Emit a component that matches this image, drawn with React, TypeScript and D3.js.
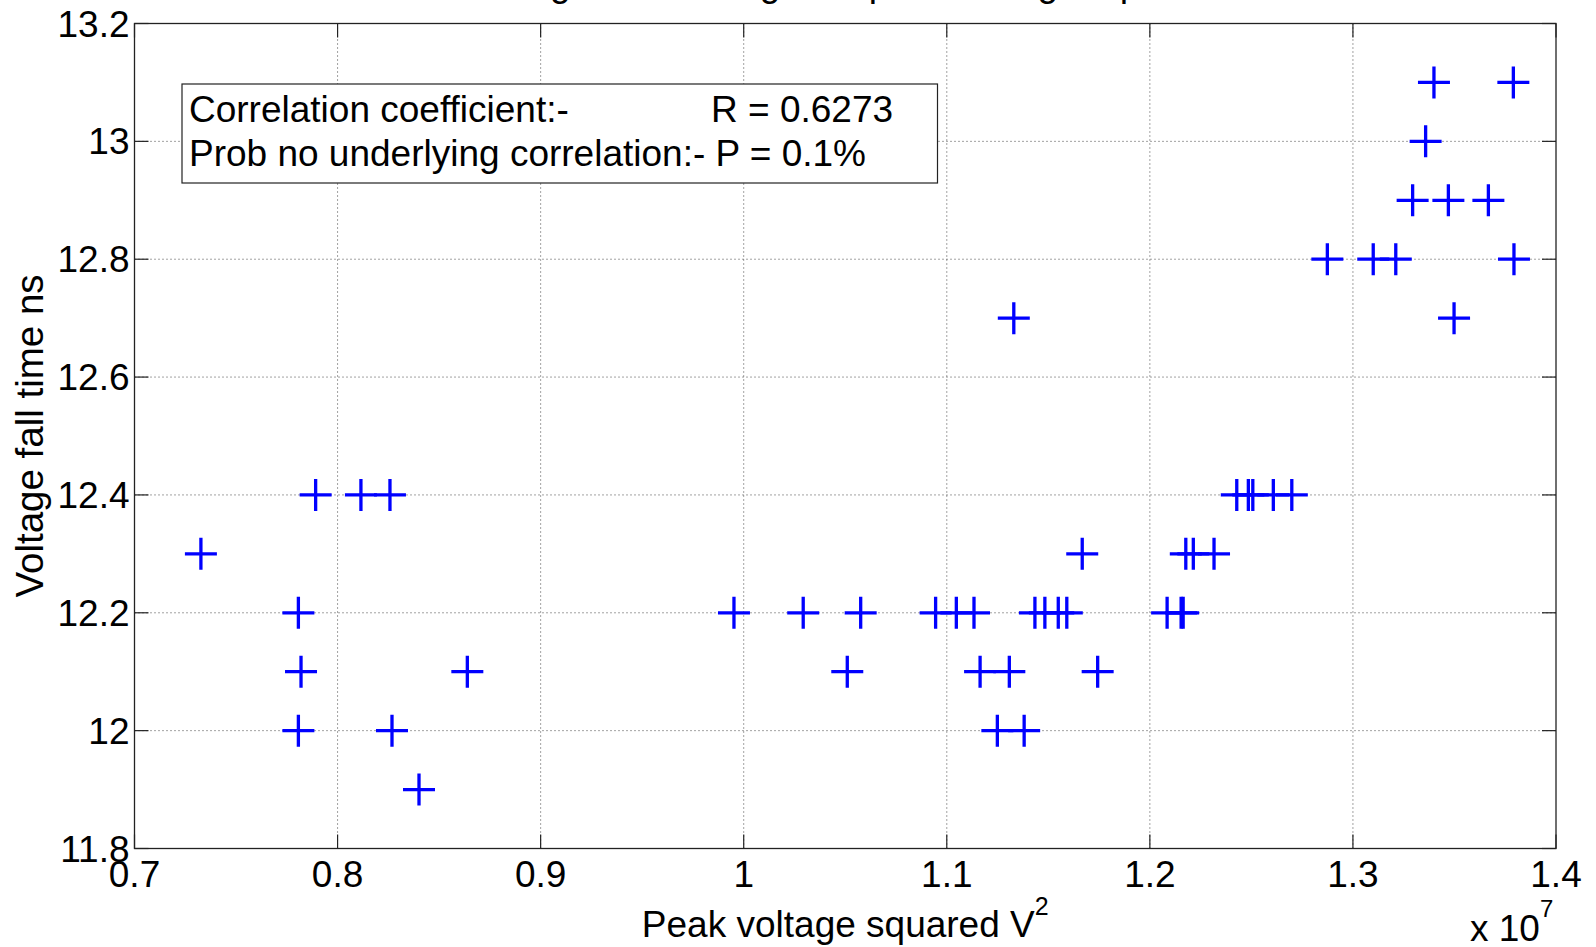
import React from "react";
import * as d3 from "d3";

// ---- data (peak voltage squared in units of 1e7 V^2, fall time in ns) ----
const peakVoltageSq: number[] = [
  0.7327, 0.7892, 0.8115, 0.8258, 0.7807, 0.7820, 0.8639, 0.7807, 0.8268, 0.8401,
  0.9952, 1.0293, 1.0576, 1.0945, 1.1047, 1.1134, 1.1434, 1.1483, 1.1549, 1.1591,
  1.2085, 1.2154, 1.2164,
  1.0510, 1.1164, 1.1308, 1.1743,
  1.1249, 1.1381,
  1.1667, 1.2177, 1.2214, 1.2316,
  1.2428, 1.2485, 1.2507, 1.2608, 1.2699,
  1.1330,
  1.3399, 1.3790, 1.3358, 1.3294, 1.3470, 1.3667,
  1.2874, 1.3100, 1.3211, 1.3793, 1.3498,
];
const fallTime: number[] = [
  12.3, 12.4, 12.4, 12.4, 12.2, 12.1, 12.1, 12.0, 12.0, 11.9,
  12.2, 12.2, 12.2, 12.2, 12.2, 12.2, 12.2, 12.2, 12.2, 12.2,
  12.2, 12.2, 12.2,
  12.1, 12.1, 12.1, 12.1,
  12.0, 12.0,
  12.3, 12.3, 12.3, 12.3,
  12.4, 12.4, 12.4, 12.4, 12.4,
  12.7,
  13.1, 13.1, 13.0, 12.9, 12.9, 12.9,
  12.8, 12.8, 12.8, 12.8, 12.7,
];

const xTickValues: number[] = [0.7, 0.8, 0.9, 1.0, 1.1, 1.2, 1.3, 1.4];
const xTickLabels: string[] = ["0.7", "0.8", "0.9", "1", "1.1", "1.2", "1.3", "1.4"];
const yTickValues: number[] = [11.8, 12.0, 12.2, 12.4, 12.6, 12.8, 13.0, 13.2];
const yTickLabels: string[] = ["11.8", "12", "12.2", "12.4", "12.6", "12.8", "13", "13.2"];

const titleText = "Voltage fall time against peak voltage squared";
const xLabel = "Peak voltage squared V";
const yLabel = "Voltage fall time ns";
const statsLine1Left = "Correlation coefficient:-";
const statsLine1Right = "R = 0.6273";
const statsLine2 = "Prob no underlying correlation:- P = 0.1%";

// ---- layout ----
const W = 1596;
const H = 947;
const plot = { left: 134.5, right: 1556, top: 23.5, bottom: 848.5 };
const FONT = "'Liberation Sans', Arial, Helvetica, sans-serif";
const FS = 37;

export default function App() {
  const x = d3.scaleLinear().domain([0.7, 1.4]).range([plot.left, plot.right]);
  const y = d3.scaleLinear().domain([11.8, 13.2]).range([plot.bottom, plot.top]);
  const tickLen = 14;
  const arm = 16;
  const cx = (plot.left + plot.right) / 2;

  const points = peakVoltageSq.map((v, i) => ({ px: x(v), py: y(fallTime[i]) }));

  return (
    <div style={{ position: "absolute", left: 0, top: 0 }}>
      <svg width={W} height={H} viewBox={`0 0 ${W} ${H}`} style={{ display: "block", background: "#fff" }}>
        <rect x={0} y={0} width={W} height={H} fill="#fff" />
        {/* title (mostly above the visible area, as in the reference) */}
        <text x={cx} y={-4} textAnchor="middle" fontFamily={FONT} fontSize={FS} fill="#000">
          {titleText}
        </text>

        {/* grid */}
        <g stroke="#444" strokeWidth={1} strokeDasharray="1,3">
          {xTickValues.slice(1, -1).map((v, i) => (
            <line key={"gx" + i} x1={x(v)} x2={x(v)} y1={plot.top} y2={plot.bottom} />
          ))}
          {yTickValues.slice(1, -1).map((v, i) => (
            <line key={"gy" + i} x1={plot.left} x2={plot.right} y1={y(v)} y2={y(v)} />
          ))}
        </g>

        {/* ticks */}
        <g stroke="#222" strokeWidth={1.2}>
          {xTickValues.map((v, i) => (
            <g key={"tx" + i}>
              <line x1={x(v)} x2={x(v)} y1={plot.bottom} y2={plot.bottom - tickLen} />
              <line x1={x(v)} x2={x(v)} y1={plot.top} y2={plot.top + tickLen} />
            </g>
          ))}
          {yTickValues.map((v, i) => (
            <g key={"ty" + i}>
              <line x1={plot.left} x2={plot.left + tickLen} y1={y(v)} y2={y(v)} />
              <line x1={plot.right} x2={plot.right - tickLen} y1={y(v)} y2={y(v)} />
            </g>
          ))}
        </g>

        {/* axes box */}
        <rect
          x={plot.left}
          y={plot.top}
          width={plot.right - plot.left}
          height={plot.bottom - plot.top}
          fill="none"
          stroke="#222"
          strokeWidth={1.3}
        />

        {/* tick labels */}
        <g fontFamily={FONT} fontSize={FS} fill="#000">
          {xTickValues.map((v, i) => (
            <text key={"lx" + i} x={x(v)} y={887} textAnchor="middle">
              {xTickLabels[i]}
            </text>
          ))}
          {yTickValues.map((v, i) => (
            <text key={"ly" + i} x={plot.left - 5} y={y(v) + 13} textAnchor="end">
              {yTickLabels[i]}
            </text>
          ))}
        </g>

        {/* axis labels */}
        <text x={cx} y={937} textAnchor="middle" fontFamily={FONT} fontSize={FS} fill="#000">
          {xLabel}
          <tspan fontSize={25} dy={-22}>2</tspan>
        </text>
        <text
          transform={`translate(43, 436) rotate(-90)`}
          textAnchor="middle"
          fontFamily={FONT}
          fontSize={38.5}
          fill="#000"
        >
          {yLabel}
        </text>
        <text x={1470} y={941} fontFamily={FONT} fontSize={FS} fill="#000">
          x 10
          <tspan fontSize={24} dy={-24}>7</tspan>
        </text>

        {/* stats box */}
        <rect x={182} y={84} width={755.5} height={99} fill="#fff" stroke="#222" strokeWidth={1.2} />
        <g fontFamily={FONT} fontSize={FS} fill="#000">
          <text x={189} y={122}>{statsLine1Left}</text>
          <text x={711} y={122}>{statsLine1Right}</text>
          <text x={189} y={166}>{statsLine2}</text>
        </g>

        {/* markers */}
        <g stroke="#0000ff" strokeWidth={3.3} fill="none">
          {points.map((p, i) => (
            <path
              key={"m" + i}
              d={`M${p.px - arm},${p.py}H${p.px + arm}M${p.px},${p.py - arm}V${p.py + arm}`}
            />
          ))}
        </g>
      </svg>
    </div>
  );
}
